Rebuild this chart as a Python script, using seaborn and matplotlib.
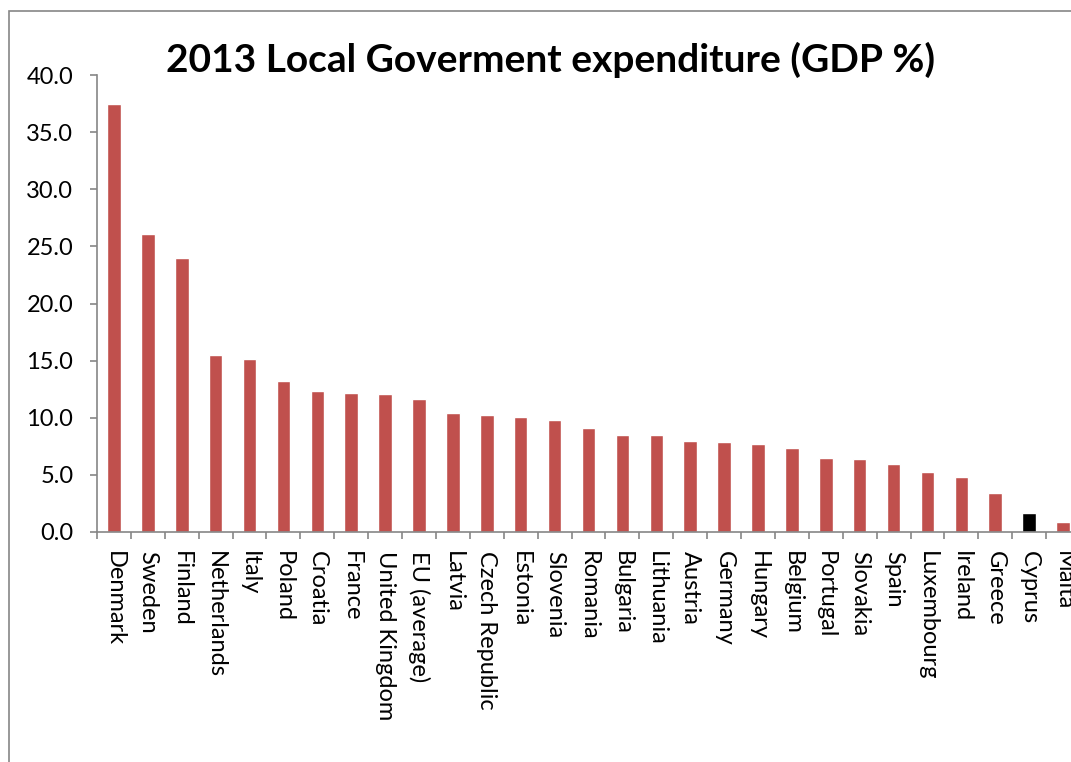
import matplotlib
matplotlib.use("Agg")
import matplotlib.pyplot as plt
import seaborn as sns
import pandas as pd
from matplotlib.patches import Rectangle
from matplotlib.ticker import FixedLocator, FormatStrFormatter

countries = ["Denmark", "Sweden", "Finland", "Netherlands", "Italy", "Poland", "Croatia",
             "France", "United Kingdom", "EU (average)", "Latvia", "Czech Republic",
             "Estonia", "Slovenia", "Romania", "Bulgaria", "Lithuania", "Austria",
             "Germany", "Hungary", "Belgium", "Portugal", "Slovakia", "Spain",
             "Luxembourg", "Ireland", "Greece", "Cyprus", "Malta"]
values = [37.5, 26.1, 24.0, 15.5, 15.1, 13.2, 12.3, 12.2, 12.05, 11.6, 10.4, 10.2,
          10.05, 9.8, 9.1, 8.45, 8.45, 8.0, 7.85, 7.7, 7.35, 6.45, 6.35, 5.95,
          5.25, 4.85, 3.45, 1.7, 0.85]
highlight = "Cyprus"
yticks = [0, 5, 10, 15, 20, 25, 30, 35, 40]
title = "2013 Local Goverment expenditure (GDP %)"

sns.set_theme(style="white")
plt.rcParams["font.family"] = ["Lato", "DejaVu Sans"]

df = pd.DataFrame({"country": countries, "value": values})
palette = {c: ("#000000" if c == highlight else "#C0504D") for c in countries}

W, H = 1071, 762
fig = plt.figure(figsize=(W / 100, H / 100), dpi=100)
ax = fig.add_axes([97 / W, 1 - 532 / H, (1080 - 97) / W, (532 - 75) / H])

sns.barplot(data=df, x="country", y="value", hue="country", palette=palette,
            legend=False, width=0.4, saturation=1, ax=ax)

ax.set_xlim(-0.5, len(countries) - 0.5)
ax.set_ylim(0, 40)
ax.set_yticks(yticks)
ax.yaxis.set_major_formatter(FormatStrFormatter("%.1f"))
ax.set_xlabel("")
ax.set_ylabel("")

gray = "#868686"
for s in ["top", "right"]:
    ax.spines[s].set_visible(False)
for s in ["left", "bottom"]:
    ax.spines[s].set_color(gray)
    ax.spines[s].set_linewidth(1.2)

ax.tick_params(axis="y", which="major", left=True, length=5, width=1.2, color=gray,
               pad=12, labelsize=17, labelcolor="black")
ax.xaxis.set_minor_locator(FixedLocator([i - 0.5 for i in range(len(countries) + 1)]))
ax.tick_params(axis="x", which="major", bottom=False, length=0, pad=14,
               labelsize=17, labelcolor="black")
ax.tick_params(axis="x", which="minor", bottom=True, length=5, width=1.2, color=gray)
for lab in ax.get_xticklabels():
    lab.set_rotation(-90)
    lab.set_ha("center")
    lab.set_va("top")

fig.text(551 / W, 1 - 60 / H, title, ha="center", va="center",
         fontsize=28, fontweight="bold", color="black")

fig.patches.append(Rectangle((9 / W, -0.1), 1.2, 1.1 - 11 / H, transform=fig.transFigure,
                             fill=False, edgecolor=gray, linewidth=1.2, clip_on=False))

fig.savefig("out.png", dpi=100)
